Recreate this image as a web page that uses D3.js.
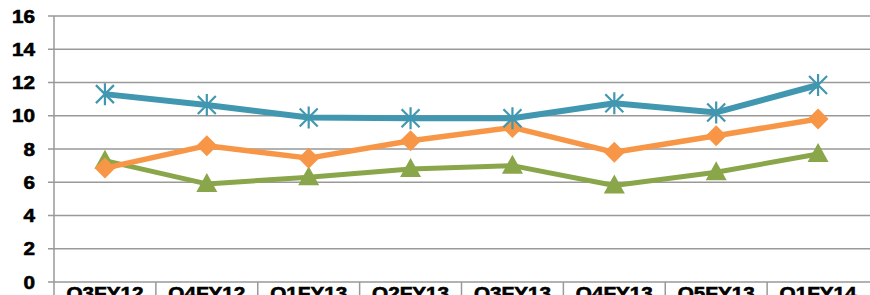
<!DOCTYPE html>
<html>
<head>
<meta charset="utf-8">
<script src="https://cdn.jsdelivr.net/npm/d3@7"></script>
<style>
  body { margin: 0; background: #fff; overflow: hidden; }
  svg text { font-family: Arial, "Liberation Sans", Helvetica, sans-serif; font-weight: 700; }
</style>
</head>
<body>
<div class="chart"></div>
<script>
// data
const quarters = ["Q3FY12", "Q4FY12", "Q1FY13", "Q2FY13", "Q3FY13", "Q4FY13", "Q5FY13", "Q1FY14"];
const blueSeries = [11.3, 10.65, 9.9, 9.85, 9.85, 10.75, 10.2, 11.85];
const orangeSeries = [6.85, 8.2, 7.45, 8.5, 9.3, 7.8, 8.8, 9.8];
const greenSeries = [7.3, 5.9, 6.3, 6.8, 7.0, 5.8, 6.6, 7.7];
const yTicks = [0, 2, 4, 6, 8, 10, 12, 14, 16];

const width = 870;
const height = 295;
const margin = {t: 16, r: 1, b: 13, l: 54};

const svg = d3.select(".chart").append("svg")
  .attr("width", width)
  .attr("height", height);

const x = d3.scaleBand()
  .domain(quarters)
  .range([margin.l, width - margin.r]);

const y = d3.scaleLinear()
  .domain([0, 16])
  .range([height - margin.b, margin.t]);

// horizontal gridlines + y ticks
svg.append("g")
  .selectAll("line")
  .data(yTicks)
  .join("line")
  .attr("x1", margin.l - 6)
  .attr("x2", width)
  .attr("y1", d => y(d))
  .attr("y2", d => y(d))
  .attr("stroke", "#999")
  .attr("stroke-width", 1.5);

// y axis line
svg.append("line")
  .attr("x1", margin.l).attr("x2", margin.l)
  .attr("y1", y(16)).attr("y2", height)
  .attr("stroke", "#999")
  .attr("stroke-width", 1.5);

// category separators below the axis
svg.append("g")
  .selectAll("line")
  .data(quarters.slice(1))
  .join("line")
  .attr("x1", d => x(d))
  .attr("x2", d => x(d))
  .attr("y1", y(0))
  .attr("y2", height)
  .attr("stroke", "#999")
  .attr("stroke-width", 1.5);

// y labels (chart looks stretched horizontally, so scale the text a bit)
svg.append("g")
  .selectAll("text")
  .data(yTicks)
  .join("text")
  .attr("transform", d => `translate(35, ${y(d) + 6.5}) scale(1.15,1)`)
  .attr("text-anchor", "end")
  .attr("font-size", 18)
  .attr("stroke", "#000")
  .attr("stroke-width", 0.6)
  .text(d => d);

// x labels (cut off by the bottom edge)
svg.append("g")
  .selectAll("text")
  .data(quarters)
  .join("text")
  .attr("transform", d => `translate(${x(d) + x.bandwidth() / 2}, 300) scale(1.15,1)`)
  .attr("text-anchor", "middle")
  .attr("font-size", 18)
  .attr("stroke", "#000")
  .attr("stroke-width", 0.6)
  .text(d => d);

const line = d3.line()
  .x((d, i) => x(quarters[i]) + x.bandwidth() / 2)
  .y(d => y(d));

const series = [
  {values: greenSeries, color: "#8AA64A", marker: "triangle", w: 5},
  {values: orangeSeries, color: "#F79646", marker: "diamond", w: 5.5},
  {values: blueSeries, color: "#4197B0", marker: "star", w: 6}
];

series.forEach(s => {
  const g = svg.append("g");
  g.append("path")
    .datum(s.values)
    .attr("d", line)
    .attr("fill", "none")
    .attr("stroke", s.color)
    .attr("stroke-width", s.w)
    .attr("stroke-linejoin", "round");

  const pts = g.selectAll(".pt")
    .data(s.values)
    .join("g")
    .attr("transform", (d, i) => `translate(${x(quarters[i]) + x.bandwidth() / 2}, ${y(d)})`);

  if (s.marker === "triangle") {
    pts.append("path")
      .attr("d", "M0,-11 L10.5,8 L-10.5,8 Z")
      .attr("fill", s.color);
  } else if (s.marker === "diamond") {
    pts.append("path")
      .attr("d", "M0,-10.5 L10.5,0 L0,10.5 L-10.5,0 Z")
      .attr("fill", s.color);
  } else {
    pts.append("path")
      .attr("d", "M0,-11 L0,11 M-9,-9 L9,9 M-9,9 L9,-9")
      .attr("stroke", s.color)
      .attr("stroke-width", 2.2)
      .attr("fill", "none");
  }
});
</script>
</body>
</html>
